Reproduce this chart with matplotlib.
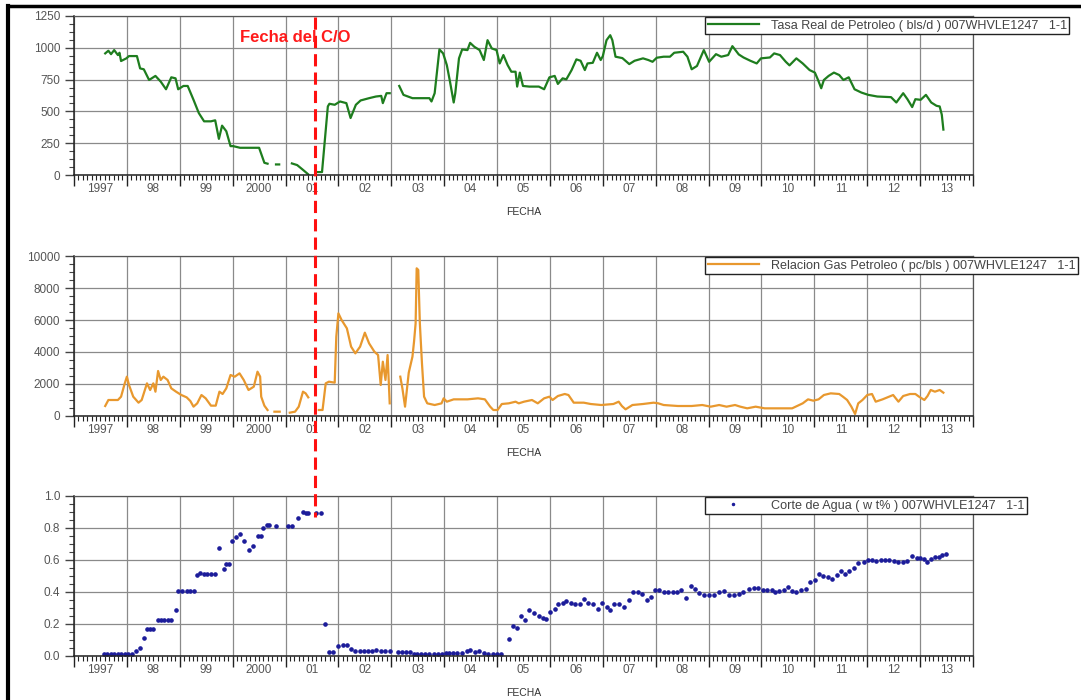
import numpy as np
import matplotlib
matplotlib.use("Agg")
import matplotlib.pyplot as plt
from matplotlib.ticker import MultipleLocator, FixedLocator, FuncFormatter, AutoMinorLocator
from matplotlib.lines import Line2D

plt.rcParams['font.family'] = ['Liberation Sans', 'DejaVu Sans']

W, H = 1081, 700

# --- data (decimal years) ---
year_labels = ['1997', '98', '99', '2000', '01', '02', '03', '04', '05', '06',
               '07', '08', '09', '10', '11', '12', '13']

oil_t = [1997.59, 1997.65, 1997.70, 1997.76, 1997.83, 1997.86, 1997.89, 1997.99, 1998.04, 1998.19,
         1998.25, 1998.32, 1998.42, 1998.54, 1998.64, 1998.74, 1998.84, 1998.92, 1998.97, 1999.07,
         1999.15, 1999.26, 1999.36, 1999.46, 1999.59, 1999.67, 1999.74, 1999.80, 1999.88, 1999.96,
         2000.01, 2000.14, 2000.50, 2000.60, 2000.66, None, 2000.82, 2000.88, None,
         2001.12, 2001.22, 2001.32, 2001.43, None, 2001.61, 2001.69, 2001.80, 2001.83, 2001.93,
         2002.03, 2002.15, 2002.23, 2002.33, 2002.42, 2002.58, 2002.71, 2002.81, 2002.84, 2002.91,
         2002.97, None, 2003.15, 2003.23, 2003.40, 2003.72, 2003.76, 2003.82, 2003.91, 2003.98,
         2004.05, 2004.11, 2004.18, 2004.21, 2004.28, 2004.34, 2004.44, 2004.49, 2004.57, 2004.67,
         2004.75, 2004.82, 2004.90, 2004.99, 2005.05, 2005.12, 2005.20, 2005.27, 2005.35, 2005.38,
         2005.43, 2005.49, 2005.61, 2005.79, 2005.89, 2005.99, 2006.09, 2006.15, 2006.24, 2006.31,
         2006.41, 2006.50, 2006.58, 2006.66, 2006.71, 2006.81, 2006.89, 2006.96, 2007.00, 2007.07,
         2007.14, 2007.18, 2007.24, 2007.37, 2007.50, 2007.60, 2007.76, 2007.86, 2007.94, 2008.02,
         2008.15, 2008.27, 2008.35, 2008.52, 2008.60, 2008.68, 2008.78, 2008.91, 2009.01, 2009.14,
         2009.24, 2009.37, 2009.45, 2009.57, 2009.66, 2009.79, 2009.91, 2009.99, 2010.16, 2010.24,
         2010.35, 2010.46, 2010.53, 2010.66, 2010.78, 2010.91, 2011.01, 2011.07, 2011.13, 2011.18,
         2011.27, 2011.37, 2011.47, 2011.55, 2011.65, 2011.76, 2011.89, 2012.02, 2012.19, 2012.45,
         2012.55, 2012.68, 2012.76, 2012.85, 2012.91, 2013.01, 2013.11, 2013.21, 2013.31, 2013.37,
         2013.41, 2013.44]
oil_rate = [956, 977, 950, 982, 943, 961, 896, 917, 935, 935,
            838, 831, 747, 779, 734, 674, 768, 760, 674, 700,
            700, 591, 487, 422, 422, 430, 284, 388, 344, 227,
            227, 214, 214, 96, 89, None, 83, 83, None,
            91, 78, 44, 5, None, 23, 23, 539, 560, 552,
            578, 565, 448, 552, 586, 604, 617, 622, 565, 643,
            643, None, 700, 630, 604, 604, 578, 643, 987, 956,
            864, 734, 570, 643, 917, 987, 982, 1039, 1008, 982,
            904, 1060, 995, 982, 877, 943, 864, 812, 812, 695,
            805, 700, 695, 695, 674, 768, 779, 716, 760, 752,
            825, 909, 898, 825, 877, 882, 961, 904, 935, 1060,
            1099, 1060, 930, 919, 872, 898, 917, 904, 890, 922,
            930, 930, 961, 969, 930, 831, 857, 982, 890, 950,
            930, 943, 1013, 948, 924, 898, 877, 917, 924, 956,
            943, 890, 862, 917, 877, 825, 805, 747, 682, 747,
            779, 805, 786, 747, 768, 674, 648, 630, 617, 612,
            570, 643, 596, 534, 596, 591, 630, 570, 544, 539,
            474, 357]

gor_t = [1997.59, 1997.65, 1997.83, 1997.89, 1997.96, 1998.00, 1998.04, 1998.12, 1998.22, 1998.28,
         1998.38, 1998.44, 1998.50, 1998.54, 1998.59, 1998.64, 1998.69, 1998.77, 1998.84, 1998.93,
         1999.03, 1999.13, 1999.20, 1999.26, 1999.33, 1999.41, 1999.49, 1999.59, 1999.68, 1999.75,
         1999.81, 1999.88, 1999.96, 2000.04, 2000.13, 2000.21, 2000.30, 2000.40, 2000.47, 2000.52,
         2000.54, 2000.60, 2000.66, None, 2000.79, 2000.89, None,
         2001.08, 2001.18, 2001.25, 2001.33, 2001.38, 2001.43, None,
         2001.63, 2001.70, 2001.76, 2001.82, 2001.93, 2001.96, 2002.00, 2002.06, 2002.16, 2002.24,
         2002.32, 2002.41, 2002.50, 2002.58, 2002.68, 2002.75, 2002.80, 2002.84, 2002.89, 2002.93,
         2002.97, None, 2003.17, 2003.21, 2003.26, 2003.30, 2003.33, 2003.40, 2003.43, 2003.46,
         2003.48, 2003.51, 2003.54, 2003.58, 2003.62, 2003.68, 2003.82, 2003.95, 2003.99, 2004.05,
         2004.18, 2004.44, 2004.64, 2004.77, 2004.87, 2004.93, 2005.01, 2005.09, 2005.22, 2005.35,
         2005.41, 2005.51, 2005.66, 2005.77, 2005.89, 2005.99, 2006.05, 2006.15, 2006.28, 2006.35,
         2006.45, 2006.64, 2006.77, 2006.97, 2007.20, 2007.30, 2007.36, 2007.43, 2007.56, 2007.76,
         2007.96, 2008.05, 2008.15, 2008.42, 2008.68, 2008.88, 2009.04, 2009.20, 2009.34, 2009.50,
         2009.60, 2009.73, 2009.89, 2010.06, 2010.39, 2010.58, 2010.78, 2010.88, 2010.98, 2011.08,
         2011.18, 2011.31, 2011.47, 2011.54, 2011.62, 2011.70, 2011.77, 2011.83, 2011.91, 2012.00,
         2012.09, 2012.16, 2012.29, 2012.49, 2012.59, 2012.68, 2012.81, 2012.91, 2012.98, 2013.08,
         2013.14, 2013.20, 2013.28, 2013.37, 2013.44]
gor = [625, 1000, 1000, 1208, 2041, 2458, 1937, 1208, 833, 1000,
       2041, 1625, 2041, 1520, 2812, 2250, 2458, 2250, 1729, 1520,
       1312, 1166, 937, 583, 791, 1312, 1104, 646, 646, 1520,
       1375, 1729, 2562, 2458, 2666, 2250, 1625, 1833, 2770, 2458,
       1208, 646, 375, None, 270, 270, None,
       208, 270, 583, 1520, 1416, 1166, None,
       375, 375, 2041, 2145, 2083, 4958, 6416, 6000, 5478, 4333,
       3916, 4333, 5208, 4541, 4020, 3812, 1937, 3395, 2250, 3812,
       791, None, 2458, 1729, 583, 1833, 2708, 3708, 4645, 5791,
       9230, 9130, 5791, 3291, 1208, 791, 687, 791, 1104, 895,
       1041, 1041, 1104, 1041, 583, 375, 375, 750, 791, 895,
       791, 895, 1000, 791, 1104, 1208, 1000, 1250, 1375, 1312,
       833, 833, 750, 687, 750, 895, 625, 416, 687, 750,
       833, 791, 687, 625, 625, 687, 583, 687, 583, 687,
       583, 479, 583, 479, 479, 479, 791, 1041, 958, 1041,
       1312, 1416, 1375, 1208, 1000, 583, 125, 791, 1000, 1312,
       1375, 895, 1041, 1312, 895, 1250, 1375, 1375, 1208, 1000,
       1250, 1625, 1520, 1625, 1458]

wcut_t = [1997.57, 1997.63, 1997.70, 1997.76, 1997.83, 1997.89, 1997.96, 1998.03, 1998.10, 1998.17,
          1998.25, 1998.33, 1998.38, 1998.43, 1998.50, 1998.58, 1998.64, 1998.71, 1998.77, 1998.84,
          1998.92, 1998.97, 1999.05, 1999.13, 1999.20, 1999.26, 1999.33, 1999.39, 1999.46, 1999.52,
          1999.59, 1999.67, 1999.75, 1999.83, 1999.88, 1999.93, 1999.99, 2000.06, 2000.14, 2000.21,
          2000.30, 2000.39, 2000.47, 2000.53, 2000.58, 2000.65, 2000.69, 2000.82, 2001.05, 2001.12,
          2001.24, 2001.33, 2001.38, 2001.43, 2001.57, 2001.67, 2001.74, 2001.82, 2001.90, 2002.00,
          2002.09, 2002.17, 2002.24, 2002.32, 2002.40, 2002.48, 2002.56, 2002.64, 2002.72, 2002.80,
          2002.88, 2002.98, 2003.12, 2003.20, 2003.28, 2003.36, 2003.42, 2003.48, 2003.56, 2003.64,
          2003.72, 2003.80, 2003.88, 2003.96, 2004.03, 2004.10, 2004.16, 2004.24, 2004.33, 2004.43,
          2004.49, 2004.59, 2004.66, 2004.75, 2004.83, 2004.92, 2005.00, 2005.07, 2005.22, 2005.31,
          2005.37, 2005.45, 2005.53, 2005.60, 2005.70, 2005.79, 2005.86, 2005.92, 2006.00, 2006.09,
          2006.15, 2006.24, 2006.31, 2006.39, 2006.48, 2006.57, 2006.64, 2006.72, 2006.81, 2006.91,
          2006.98, 2007.07, 2007.14, 2007.22, 2007.30, 2007.40, 2007.50, 2007.58, 2007.66, 2007.75,
          2007.83, 2007.91, 2007.99, 2008.07, 2008.15, 2008.23, 2008.32, 2008.40, 2008.48, 2008.58,
          2008.66, 2008.74, 2008.82, 2008.91, 2009.00, 2009.10, 2009.20, 2009.30, 2009.39, 2009.48,
          2009.57, 2009.66, 2009.76, 2009.85, 2009.94, 2010.02, 2010.11, 2010.20, 2010.25, 2010.33,
          2010.42, 2010.50, 2010.58, 2010.66, 2010.74, 2010.84, 2010.92, 2011.01, 2011.09, 2011.17,
          2011.25, 2011.34, 2011.42, 2011.50, 2011.58, 2011.66, 2011.75, 2011.83, 2011.93, 2012.01,
          2012.09, 2012.17, 2012.26, 2012.34, 2012.42, 2012.50, 2012.58, 2012.67, 2012.75, 2012.85,
          2012.94, 2013.00, 2013.07, 2013.13, 2013.20, 2013.28, 2013.36, 2013.42, 2013.49]
wcut = [0.015, 0.015, 0.015, 0.015, 0.015, 0.015, 0.015, 0.015, 0.015, 0.030,
        0.050, 0.110, 0.166, 0.166, 0.166, 0.222, 0.222, 0.222, 0.222, 0.222,
        0.290, 0.405, 0.405, 0.405, 0.405, 0.405, 0.508, 0.519, 0.512, 0.512,
        0.512, 0.512, 0.674, 0.544, 0.575, 0.575, 0.716, 0.741, 0.763, 0.716,
        0.660, 0.685, 0.747, 0.747, 0.800, 0.820, 0.820, 0.813, 0.810, 0.810,
        0.860, 0.900, 0.896, 0.896, 0.892, 0.896, 0.197, 0.025, 0.025, 0.062,
        0.066, 0.066, 0.041, 0.031, 0.031, 0.031, 0.031, 0.031, 0.035, 0.031,
        0.031, 0.031, 0.025, 0.025, 0.025, 0.025, 0.015, 0.012, 0.015, 0.015,
        0.015, 0.015, 0.015, 0.015, 0.020, 0.020, 0.020, 0.020, 0.020, 0.030,
        0.037, 0.025, 0.030, 0.020, 0.015, 0.015, 0.015, 0.012, 0.108, 0.187,
        0.176, 0.249, 0.228, 0.286, 0.266, 0.249, 0.239, 0.232, 0.274, 0.295,
        0.328, 0.332, 0.342, 0.332, 0.322, 0.328, 0.357, 0.332, 0.328, 0.295,
        0.332, 0.307, 0.290, 0.322, 0.322, 0.307, 0.349, 0.398, 0.398, 0.390,
        0.349, 0.369, 0.411, 0.411, 0.398, 0.398, 0.398, 0.398, 0.415, 0.363,
        0.440, 0.419, 0.394, 0.384, 0.380, 0.384, 0.398, 0.405, 0.384, 0.384,
        0.390, 0.398, 0.419, 0.425, 0.425, 0.415, 0.415, 0.415, 0.398, 0.405,
        0.411, 0.432, 0.405, 0.398, 0.411, 0.419, 0.460, 0.477, 0.514, 0.502,
        0.494, 0.481, 0.508, 0.529, 0.514, 0.529, 0.550, 0.581, 0.585, 0.598,
        0.598, 0.591, 0.598, 0.598, 0.602, 0.591, 0.585, 0.585, 0.591, 0.627,
        0.612, 0.612, 0.606, 0.585, 0.606, 0.618, 0.618, 0.633, 0.639]

co_date = 2001.55  # fecha del cambio de zona

oil_label = 'Tasa Real de Petroleo ( bls/d ) 007WHVLE1247   1-1'
gor_label = 'Relacion Gas Petroleo ( pc/bls ) 007WHVLE1247   1-1'
wcut_label = 'Corte de Agua ( w t% ) 007WHVLE1247   1-1'


def arr(values):
    return np.array([np.nan if v is None else v for v in values], dtype=float)


fig = plt.figure(figsize=(W / 100, H / 100), dpi=100)
fig.patch.set_facecolor('white')

left, right = 74, 973
panels = [(16, 175), (256, 416), (496, 656)]  # (top, bottom) in pixels


def make_axes(top, bottom):
    return fig.add_axes([left / W, 1 - bottom / H, (right - left) / W, (bottom - top) / H])


months = np.arange(1997, 2014 + 1e-9, 1 / 12)
mid_year = {round(1997 + i + 0.5, 4): lab for i, lab in enumerate(year_labels)}


def month_fmt(x, pos):
    return mid_year.get(round(x, 4), '')


def style(ax, ymax, ystep, yfmt):
    ax.set_xlim(1997, 2014)
    ax.set_ylim(0, ymax)
    ax.xaxis.set_major_locator(MultipleLocator(1))
    ax.xaxis.set_major_formatter(FuncFormatter(lambda x, p: ''))
    ax.xaxis.set_minor_locator(FixedLocator(months))
    ax.xaxis.set_minor_formatter(FuncFormatter(month_fmt))
    ax.yaxis.set_major_locator(MultipleLocator(ystep))
    ax.yaxis.set_major_formatter(FuncFormatter(yfmt))
    ax.yaxis.set_minor_locator(AutoMinorLocator(4))
    ax.tick_params(axis='x', which='major', direction='out', length=8, width=1, color='#222222')
    ax.tick_params(axis='x', which='minor', direction='out', length=3.5, width=0.8, color='#222222',
                   labelsize=8.5, labelcolor='#555555', pad=2.5)
    ax.tick_params(axis='y', which='major', direction='out', length=6.5, width=1, color='#444444',
                   labelsize=8.5, labelcolor='#555555', pad=3.5)
    ax.tick_params(axis='y', which='minor', direction='out', length=3.5, width=0.8, color='#444444')
    ax.grid(True, which='major', color='#8a8a8a', linewidth=0.9)
    ax.set_axisbelow(True)
    for side in ['top', 'right']:
        ax.spines[side].set_color('#555555')
        ax.spines[side].set_linewidth(0.9)
    for side in ['left', 'bottom']:
        ax.spines[side].set_color('#222222')
        ax.spines[side].set_linewidth(1.1)
    ax.annotate('FECHA', xy=(0.5, 0), xycoords='axes fraction', xytext=(0, -37),
                textcoords='offset pixels', ha='center', va='center', fontsize=7.5, color='#333333')


def add_legend(ax, handle, label, top):
    leg = ax.legend([handle], [label], loc='upper left', bbox_to_anchor=(705 / W, 1 - top / H),
                    bbox_transform=fig.transFigure, fancybox=False, framealpha=1, edgecolor='#222222',
                    fontsize=9.1, handlelength=4.1, handletextpad=0.9, borderpad=0.2,
                    borderaxespad=0, numpoints=1, labelcolor='#444444')
    leg.get_frame().set_linewidth(1.0)
    leg.set_zorder(10)


# Tasa real de petroleo
ax1 = make_axes(*panels[0])
style(ax1, 1250, 250, lambda v, p: f'{v:.0f}')
h1, = ax1.plot(arr(oil_t), arr(oil_rate), color='#1e7d1e', lw=1.6)
add_legend(ax1, h1, oil_label, 17)

# Relacion gas petroleo
ax2 = make_axes(*panels[1])
style(ax2, 10000, 2000, lambda v, p: f'{v:.0f}')
h2, = ax2.plot(arr(gor_t), arr(gor), color='#e8982e', lw=1.6)
add_legend(ax2, h2, gor_label, 257)

# Corte de agua
ax3 = make_axes(*panels[2])
style(ax3, 1.0, 0.2, lambda v, p: f'{v:.1f}')
h3, = ax3.plot(arr(wcut_t), arr(wcut), linestyle='none', marker='o', ms=2.3,
               color='#1c1c9a', mec='#1c1c9a')
add_legend(ax3, Line2D([], [], linestyle='none', marker='o', ms=1.5, color='#1c1c9a'), wcut_label, 497)

# linea de la fecha del C/O, cruza los tres paneles
x_co = ax1.transData.transform((co_date, 0))[0]
x_co_fig = fig.transFigure.inverted().transform((x_co, 0))[0]
fig.add_artist(Line2D([x_co_fig, x_co_fig], [1 - 17 / H, 1 - 517 / H], transform=fig.transFigure,
                      color='#ff1010', lw=2.2, linestyle=(0, (4, 2)), zorder=20))
fig.text(240 / W, 1 - 37 / H, 'Fecha del C/O', color='#ff1a1a', fontsize=12, fontweight='bold',
         ha='left', va='center', zorder=21)

# marco exterior
fig.add_artist(Line2D([8 / W, 8 / W], [0, 1 - 6 / H], transform=fig.transFigure, color='black', lw=3))
fig.add_artist(Line2D([8 / W, 1], [1 - 6 / H, 1 - 6 / H], transform=fig.transFigure, color='black', lw=2.5))

fig.savefig('out.png', dpi=100)
